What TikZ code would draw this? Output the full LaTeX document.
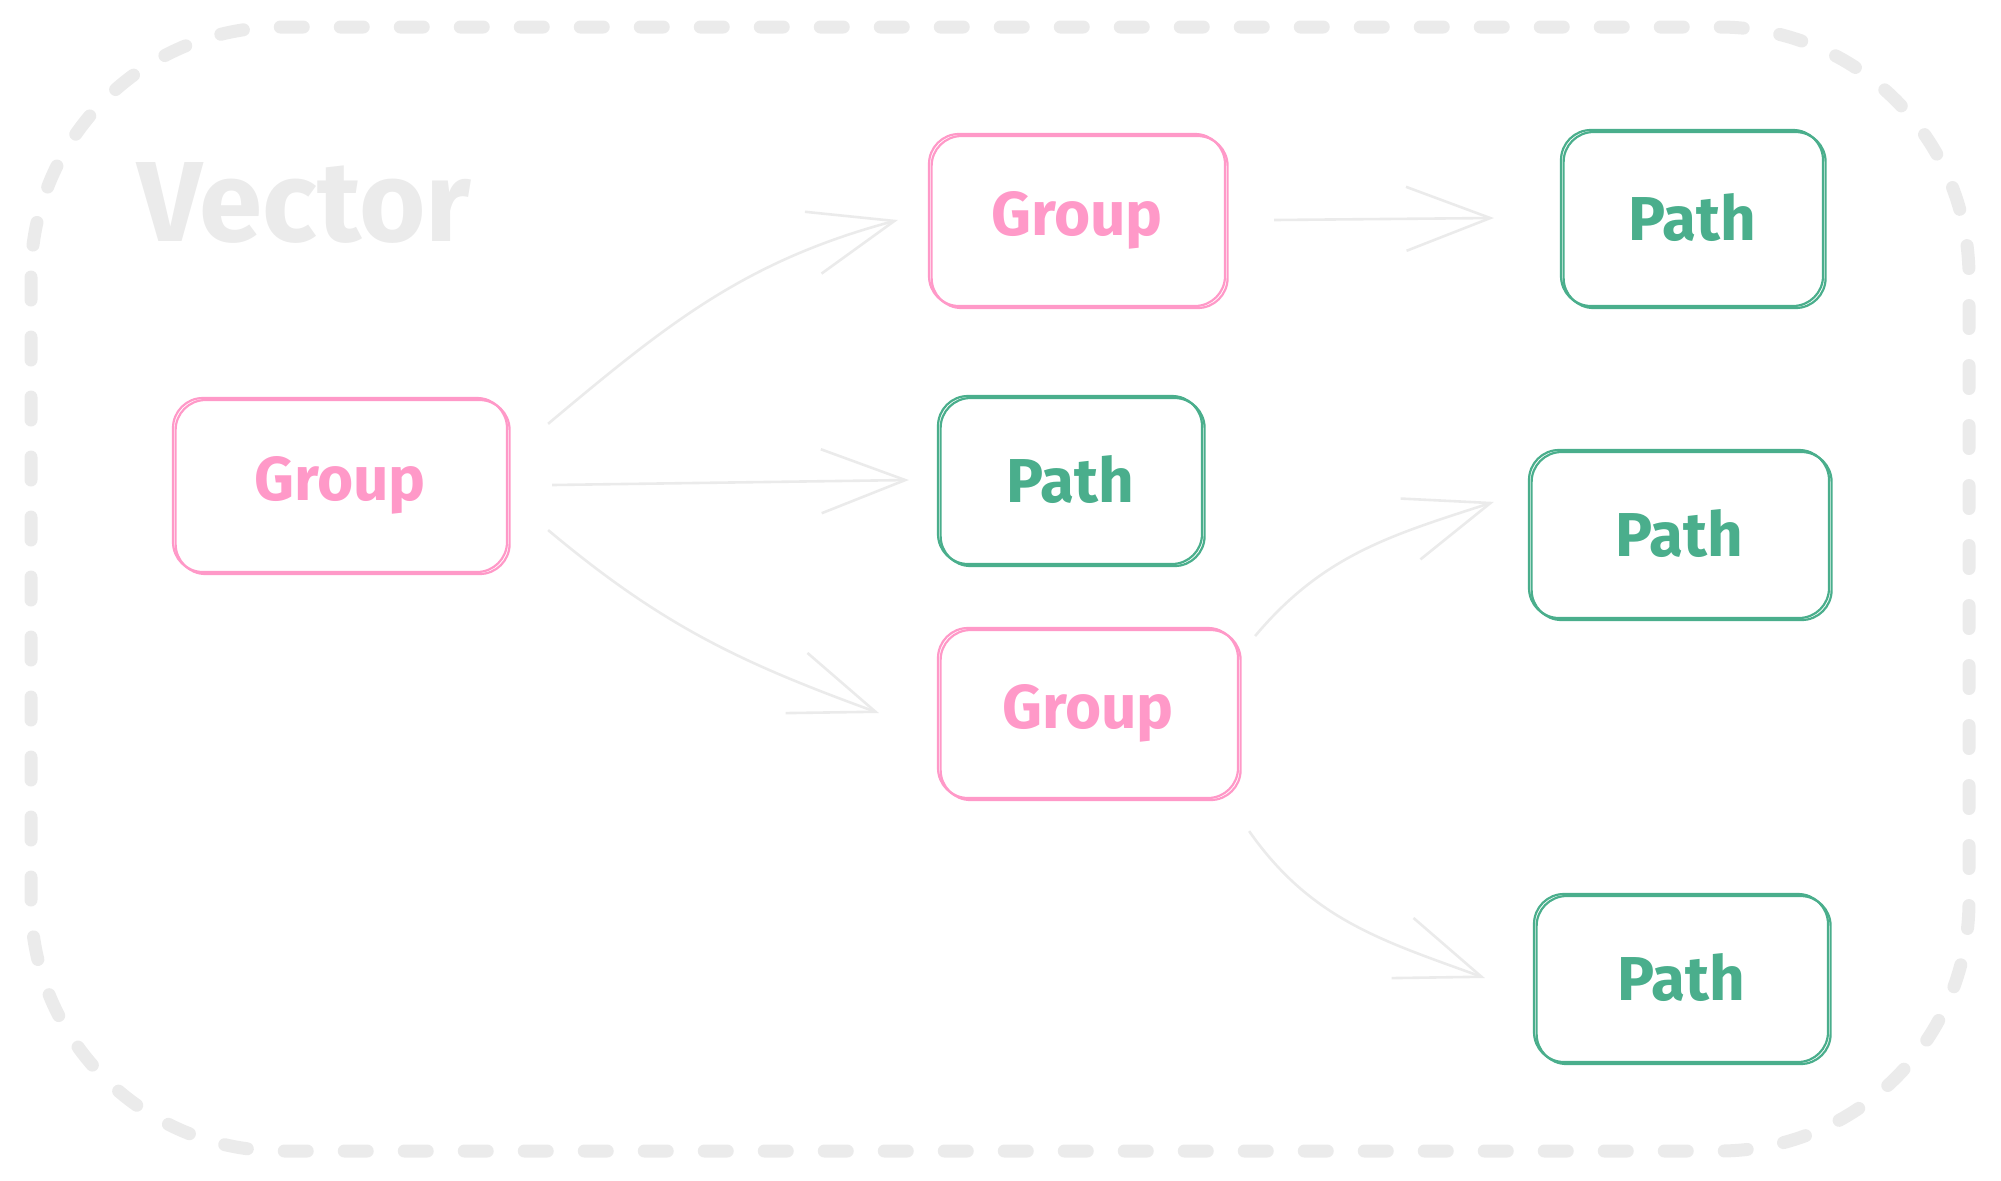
\documentclass[tikz,border=0pt]{standalone}
\usepackage{fontspec}
\setmainfont{Fira Sans}
\usetikzlibrary{arrows.meta}
\definecolor{grp}{HTML}{FF99C8}
\definecolor{pth}{HTML}{4AAE8C}
\definecolor{frm}{HTML}{EBEBEB}

\begin{document}
\begin{tikzpicture}[x=0.5pt,y=-0.5pt,
        box/.style={draw, line width=1.1pt, rounded corners=15pt,
            font=\fontsize{31}{36}\selectfont\bfseries,
            postaction={draw, transform canvas={shift={(1.3pt,-1pt)}}}},
        group/.style={box, draw=grp, text=grp},
        pathbox/.style={box, draw=pth, text=pth},
        link/.style={frm, line width=1.3pt, -{Straight Barb[length=42pt,width=32pt]}}]
        \useasboundingbox (0,0) rectangle (2001,1180);
        % Frame
        \draw[frm, line width=6.5pt, line cap=round, dash pattern=on 11.5pt off 18.5pt,
            rounded corners=125pt] (31,27) rectangle (1969,1151);
        \node[anchor=base west, inner sep=0, text=frm,
            font=\fontsize{57}{64}\selectfont\bfseries] (title) at (137,241) {Vector};
        % Nodes
        \node[group, minimum width=167pt, minimum height=87pt] (grpA) at (340,485) {Group};
        \node[group, minimum width=148pt, minimum height=86pt] (grpB) at (1077,220) {Group};
        \node[pathbox, minimum width=132pt, minimum height=84pt] (pthB) at (1070,480) {Path};
        \node[group, minimum width=150pt, minimum height=85pt] (grpC) at (1088,713) {Group};
        \node[pathbox, minimum width=131pt, minimum height=88pt] (pthA) at (1692,218) {Path};
        \node[pathbox, minimum width=150pt, minimum height=84pt] (pthM) at (1679,534) {Path};
        \node[pathbox, minimum width=147pt, minimum height=84pt] (pthC) at (1681,978) {Path};
        % Arrows
        \draw[link] ([xshift=20pt]grpA.20) to[out=40,in=195] ([xshift=-15pt]grpB.west);
        \draw[link] ([xshift=22pt]grpA.east) -- ([xshift=-14pt]pthB.west);
        \draw[link] ([xshift=20pt]grpA.-15) to[out=-40,in=160] ([xshift=-29pt]grpC.west);
        \draw[link] ([xshift=24pt]grpB.east) -- ([xshift=-33pt]pthA.west);
        \draw[link] ([xshift=8pt]grpC.27) to[out=50,in=198] ([xshift=-17pt]pthM.168);
        \draw[link] ([xshift=5pt,yshift=-16pt]grpC.south east) to[out=-55,in=160] ([xshift=-24pt]pthC.west);
\end{tikzpicture}
\end{document}
